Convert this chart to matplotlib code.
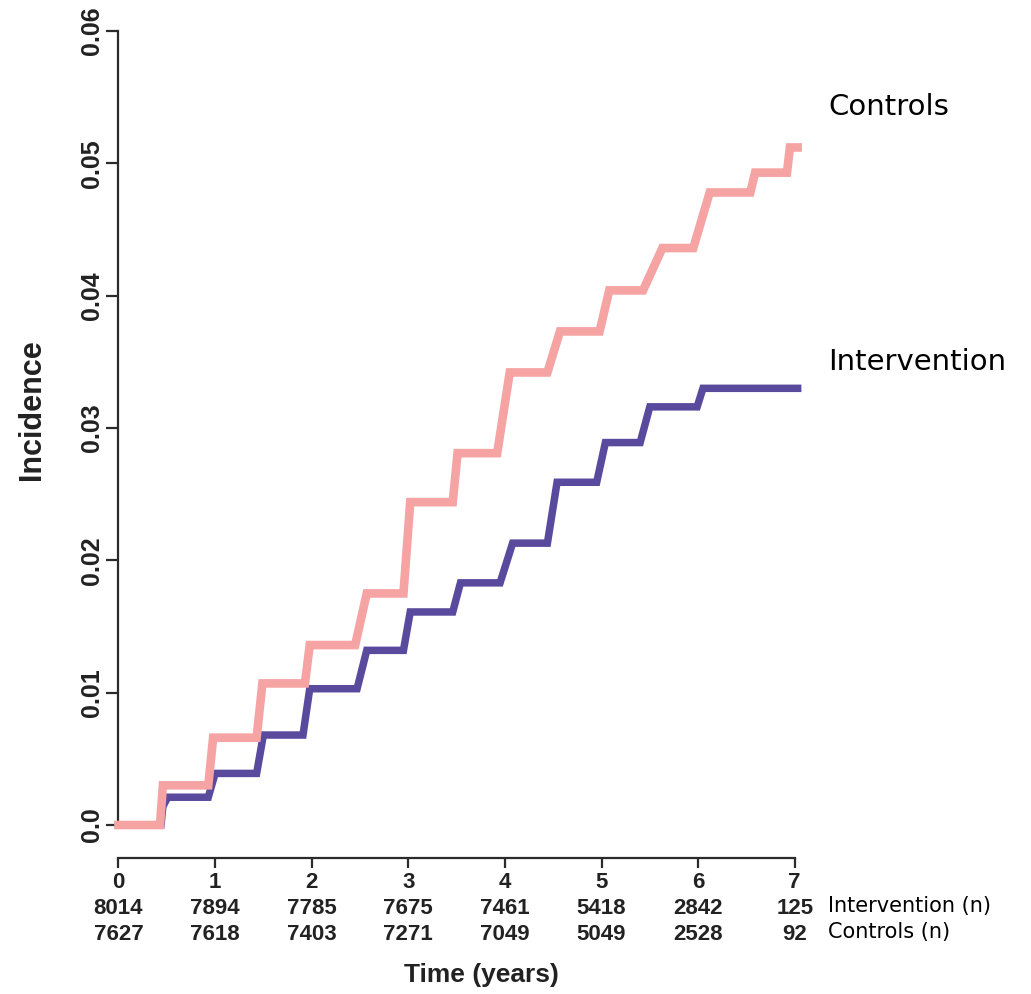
import matplotlib
matplotlib.use("Agg")
import matplotlib.pyplot as plt
from matplotlib import transforms

plt.rcParams['font.family'] = ['Liberation Sans', 'DejaVu Sans']

# cumulative incidence curves, vertices (time in years)
controls_t = [0.00, 0.43, 0.46, 0.93, 0.98, 1.43, 1.49, 1.93, 1.98, 2.45, 2.57,
              2.95, 3.02, 3.46, 3.51, 3.92, 4.05, 4.44, 4.57, 4.98, 5.08, 5.43,
              5.63, 5.95, 6.12, 6.54, 6.59, 6.92, 6.95, 7.03]
controls_v = [0.0, 0.0, 0.0030, 0.0030, 0.0066, 0.0066, 0.0107, 0.0107, 0.0136,
              0.0136, 0.0175, 0.0175, 0.0244, 0.0244, 0.0281, 0.0281, 0.0342,
              0.0342, 0.0373, 0.0373, 0.0404, 0.0404, 0.0436, 0.0436, 0.0478,
              0.0478, 0.0493, 0.0493, 0.0512, 0.0512]

intervention_t = [0.00, 0.44, 0.46, 0.51, 0.93, 1.00, 1.43, 1.50, 1.91, 1.98,
                  2.47, 2.57, 2.95, 3.02, 3.46, 3.54, 3.95, 4.08, 4.44, 4.54,
                  4.95, 5.04, 5.40, 5.50, 5.99, 6.05, 7.03]
intervention_v = [0.0, 0.0, 0.0014, 0.0021, 0.0021, 0.0039, 0.0039, 0.0068,
                  0.0068, 0.0103, 0.0103, 0.0132, 0.0132, 0.0161, 0.0161, 0.0183,
                  0.0183, 0.0213, 0.0213, 0.0259, 0.0259, 0.0289, 0.0289, 0.0316,
                  0.0316, 0.0330, 0.0330]

# numbers at risk
years = [0, 1, 2, 3, 4, 5, 6, 7]
intervention_n = [8014, 7894, 7785, 7675, 7461, 5418, 2842, 125]
controls_n = [7627, 7618, 7403, 7271, 7049, 5049, 2528, 92]

y_ticks = [0.0, 0.01, 0.02, 0.03, 0.04, 0.05, 0.06]
y_labels = ['0.0', '0.01', '0.02', '0.03', '0.04', '0.05', '0.06']

pink = '#f5a3a3'
purple = '#5a4a9e'
axis_col = '#2b2b2b'

fig = plt.figure(figsize=(10.31, 9.94), dpi=100)
ax = fig.add_axes([0.1149, 0.170, 0.6653, 0.7988])

ax.plot(intervention_t, intervention_v, color=purple, lw=5.4,
        solid_joinstyle='miter', clip_on=False, zorder=3)
ax.plot(controls_t, controls_v, color=pink, lw=6.2,
        solid_joinstyle='miter', clip_on=False, zorder=4)

ax.set_xlim(0, 7.1)
ax.set_ylim(0, 0.06)

for s in ['top', 'right']:
    ax.spines[s].set_visible(False)
ax.spines['left'].set_bounds(0, 0.06)
ax.spines['bottom'].set_position(('outward', 24))
ax.spines['bottom'].set_bounds(0, 7)
for s in ['left', 'bottom']:
    ax.spines[s].set_linewidth(1.6)
    ax.spines[s].set_color(axis_col)

ax.set_xticks(years)
ax.set_xticklabels([str(y) for y in years])
ax.set_yticks(y_ticks)
ax.set_yticklabels(y_labels)
ax.tick_params(axis='y', direction='out', length=8.5, width=1.6, pad=2,
               labelsize=18, colors=axis_col, labelcolor='#222222')
ax.tick_params(axis='x', direction='out', length=7, width=1.6, pad=3,
               labelsize=16, colors=axis_col, labelcolor='#222222')
plt.setp(ax.get_yticklabels(), rotation=90, va='center', fontweight='bold')
plt.setp(ax.get_xticklabels(), fontweight='bold')

# numbers at risk under the axis
tr = transforms.blended_transform_factory(ax.transData, fig.transFigure)
for x, a, b in zip(years, intervention_n, controls_n):
    ax.text(x, 1 - 908 / 994, str(a), transform=tr, ha='center', va='center',
            fontsize=16, fontweight='bold', color='#222222')
    ax.text(x, 1 - 934 / 994, str(b), transform=tr, ha='center', va='center',
            fontsize=16, fontweight='bold', color='#222222')

fig.text(828 / 1031, 1 - 906 / 994, 'Intervention (n)', fontsize=15,
         family='DejaVu Sans', ha='left', va='center')
fig.text(828 / 1031, 1 - 932 / 994, 'Controls (n)', fontsize=15,
         family='DejaVu Sans', ha='left', va='center')

fig.text(481 / 1031, 1 - 975 / 994, 'Time (years)', fontsize=19,
         fontweight='bold', ha='center', va='center', color='#222222')
fig.text(32 / 1031, 1 - 410 / 994, 'Incidence', fontsize=22, rotation=90,
         fontweight='bold', ha='center', va='center', color='#222222')

# curve labels
fig.text(828 / 1031, 1 - 107 / 994, 'Controls', fontsize=21,
         family='DejaVu Sans', ha='left', va='center')
fig.text(828 / 1031, 1 - 362 / 994, 'Intervention', fontsize=21,
         family='DejaVu Sans', ha='left', va='center')

fig.savefig('out.png', dpi=100, facecolor='white')
